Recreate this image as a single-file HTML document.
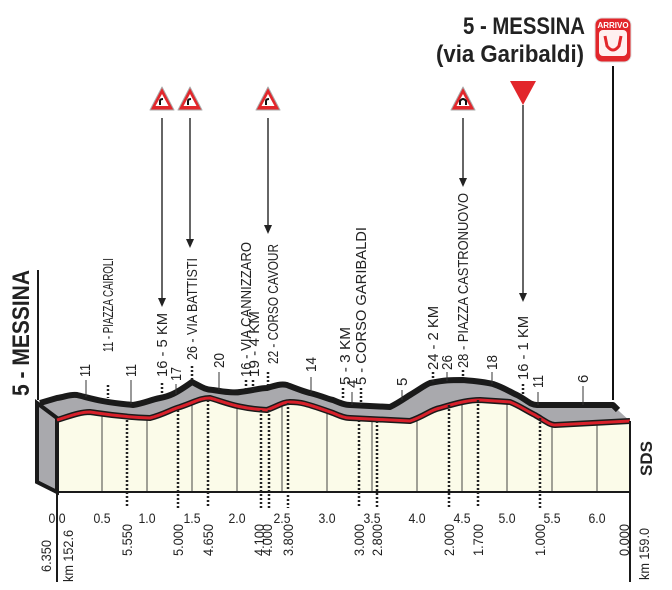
<!DOCTYPE html>
<html><head><meta charset="utf-8"><style>
html,body{margin:0;padding:0;background:#fff;}
svg{display:block;font-family:"Liberation Sans",sans-serif;}
.t{font-size:15px;fill:#222;}
.b{font-size:14px;fill:#222;}
</style></head><body>
<svg width="672" height="590" viewBox="0 0 672 590">
<path d="M57,420 C70,416 80,412 90,412 C105,414 120,417 150,418 C165,414 172,409 180,407 C195,402 200,398 210,398 C225,402 235,408 267,410 C278,406 283,402 290,402 C300,402 305,403 333,413 C340,416 345,418 350,418 L410,421 C425,416 430,410 440,408 C460,402 470,400 480,400 L510,402 C520,406 525,410 535,415 C545,421 550,425 555,425 L630,421 L630,492 L57,492 Z" fill="#fbfbe9"/>
<path d="M40,403 L57,398 C65,397 70,394 77,395 C90,398 100,402 133,405 C145,403 150,400 160,398 C170,396 175,394 192,382 C200,386 205,390 213,390 C225,392 235,393 240,392 C255,390 260,388 267,388 C280,384 283,384 287,385 C300,390 305,392 310,393 C322,396 328,399 333,400 C340,403 345,405 350,405 L390,407 C400,402 405,398 410,395 C420,389 425,385 430,383 C445,380 450,380 463,380 C475,381 485,382 493,384 C505,388 510,392 517,395 C527,400 530,405 537,405 L613,405 L620,412 L630,421 L555,425 C550,425 545,421 535,415 C525,410 520,406 510,402 L480,400 C470,400 460,402 440,408 C430,410 425,416 410,421 L350,418 C345,418 340,416 333,413 C305,403 300,402 290,402 C283,402 278,406 267,410 C235,408 225,402 210,398 C200,398 195,402 180,407 C172,409 165,414 150,418 C120,417 105,414 90,412 C80,412 70,416 57,420 Z" fill="#a9a9ad"/>
<path d="M37,403 L57,418 L57,492 L37,482 Z" fill="#a9a9ad" stroke="#1a1a1a" stroke-width="4"/>
<g stroke="#444" stroke-width="1">
<line x1="102" y1="414" x2="102" y2="492"/><line x1="147" y1="419" x2="147" y2="492"/><line x1="192" y1="403" x2="192" y2="492"/><line x1="237" y1="408" x2="237" y2="492"/><line x1="282" y1="405" x2="282" y2="492"/><line x1="327" y1="412" x2="327" y2="492"/><line x1="372" y1="421" x2="372" y2="492"/><line x1="417" y1="419" x2="417" y2="492"/><line x1="462" y1="403" x2="462" y2="492"/><line x1="507" y1="402" x2="507" y2="492"/><line x1="552" y1="424" x2="552" y2="492"/><line x1="597" y1="422" x2="597" y2="492"/>
</g>
<path d="M40,403 L57,398 C65,397 70,394 77,395 C90,398 100,402 133,405 C145,403 150,400 160,398 C170,396 175,394 192,382 C200,386 205,390 213,390 C225,392 235,393 240,392 C255,390 260,388 267,388 C280,384 283,384 287,385 C300,390 305,392 310,393 C322,396 328,399 333,400 C340,403 345,405 350,405 L390,407 C400,402 405,398 410,395 C420,389 425,385 430,383 C445,380 450,380 463,380 C475,381 485,382 493,384 C505,388 510,392 517,395 C527,400 530,405 537,405 L613,405 L618,410" fill="none" stroke="#1a1a1a" stroke-width="6" stroke-linejoin="round"/>
<g fill="none" stroke-linejoin="round">
<path id="rl" d="M57,420 C70,416 80,412 90,412 C105,414 120,417 150,418 C165,414 172,409 180,407 C195,402 200,398 210,398 C225,402 235,408 267,410 C278,406 283,402 290,402 C300,402 305,403 333,413 C340,416 345,418 350,418 L410,421 C425,416 430,410 440,408 C460,402 470,400 480,400 L510,402 C520,406 525,410 535,415 C545,421 550,425 555,425 L630,421" stroke="#1a1a1a" stroke-width="6"/>
<path d="M57,420 C70,416 80,412 90,412 C105,414 120,417 150,418 C165,414 172,409 180,407 C195,402 200,398 210,398 C225,402 235,408 267,410 C278,406 283,402 290,402 C300,402 305,403 333,413 C340,416 345,418 350,418 L410,421 C425,416 430,410 440,408 C460,402 470,400 480,400 L510,402 C520,406 525,410 535,415 C545,421 550,425 555,425 L630,421" stroke="#d8202a" stroke-width="3"/>
</g>
<g stroke="#1a1a1a" stroke-width="2">
<line x1="57" y1="492" x2="630" y2="492"/><line x1="57" y1="492" x2="57" y2="582"/><line x1="630" y1="421" x2="630" y2="582"/>
<line x1="38" y1="270" x2="38" y2="400"/>
</g>
<g stroke="#222" stroke-width="2.5" stroke-dasharray="2,2">
<line x1="127" y1="420" x2="127" y2="508"/><line x1="178" y1="410" x2="178" y2="508"/><line x1="208" y1="400" x2="208" y2="508"/><line x1="261" y1="410" x2="261" y2="508"/><line x1="269" y1="410" x2="269" y2="508"/><line x1="288" y1="403" x2="288" y2="508"/><line x1="359" y1="420" x2="359" y2="508"/><line x1="377" y1="421" x2="377" y2="508"/><line x1="449" y1="405" x2="449" y2="508"/><line x1="478" y1="400" x2="478" y2="508"/><line x1="540" y1="418" x2="540" y2="508"/>
</g>
<g stroke="#222" stroke-width="2.5" stroke-dasharray="2,2">
<line x1="108" y1="385" x2="108" y2="398"/><line x1="162" y1="383" x2="162" y2="395"/><line x1="192" y1="366" x2="192" y2="380"/><line x1="246" y1="380" x2="246" y2="390"/><line x1="253" y1="380" x2="253" y2="390"/><line x1="268" y1="372" x2="268" y2="386"/><line x1="343" y1="388" x2="343" y2="400"/><line x1="361" y1="388" x2="361" y2="405"/><line x1="433" y1="372" x2="433" y2="383"/><line x1="463" y1="370" x2="463" y2="378"/><line x1="523" y1="384" x2="523" y2="396"/>
</g>
<g stroke="#333" stroke-width="1">
<line x1="86" y1="380" x2="86" y2="397"/><line x1="131" y1="380" x2="131" y2="404"/><line x1="176" y1="384" x2="176" y2="394"/><line x1="219" y1="372" x2="219" y2="390"/><line x1="311" y1="377" x2="311" y2="393"/><line x1="352" y1="392" x2="352" y2="405"/><line x1="402" y1="390" x2="402" y2="400"/><line x1="447" y1="372" x2="447" y2="381"/><line x1="492" y1="372" x2="492" y2="384"/><line x1="538" y1="392" x2="538" y2="405"/><line x1="583" y1="386" x2="583" y2="405"/>
<line x1="162" y1="118" x2="162" y2="305" stroke-width="1.5"/><line x1="190" y1="118" x2="190" y2="246" stroke-width="1.5"/><line x1="268" y1="118" x2="268" y2="232" stroke-width="1.5"/><line x1="463" y1="118" x2="463" y2="185" stroke-width="1.5"/><line x1="523" y1="105" x2="523" y2="300" stroke-width="1.5"/>
<line x1="613" y1="66" x2="613" y2="400" stroke="#111" stroke-width="2"/>
</g>
<g fill="#222">
<path d="M158,298 L166,298 L162,307Z"/><path d="M186,239 L194,239 L190,248Z"/><path d="M264,225 L272,225 L268,234Z"/><path d="M459,178 L467,178 L463,187Z"/><path d="M519,293 L527,293 L523,302Z"/>
</g>
<g>
<g transform="translate(162,100)"><path d="M0,-13 L12,10 L-12,10Z" fill="#e2262b" stroke="#aaa" stroke-width="1" stroke-linejoin="round"/><path d="M0,-6 L6.5,6 L-6.5,6Z" fill="#fff"/><path d="M-2,5 L-2,1 Q-2,-1 1,-1" fill="none" stroke="#111" stroke-width="2"/></g>
<g transform="translate(190,100)"><path d="M0,-13 L12,10 L-12,10Z" fill="#e2262b" stroke="#aaa" stroke-width="1" stroke-linejoin="round"/><path d="M0,-6 L6.5,6 L-6.5,6Z" fill="#fff"/><path d="M-2,5 L-2,1 Q-2,-1 1,-1" fill="none" stroke="#111" stroke-width="2"/></g>
<g transform="translate(268,100)"><path d="M0,-13 L12,10 L-12,10Z" fill="#e2262b" stroke="#aaa" stroke-width="1" stroke-linejoin="round"/><path d="M0,-6 L6.5,6 L-6.5,6Z" fill="#fff"/><path d="M-2,5 L-2,1 Q-2,-1 1,-1" fill="none" stroke="#111" stroke-width="2"/></g>
<g transform="translate(463,100)"><path d="M0,-13 L12,10 L-12,10Z" fill="#e2262b" stroke="#aaa" stroke-width="1" stroke-linejoin="round"/><path d="M0,-6 L6.5,6 L-6.5,6Z" fill="#fff"/><path d="M-3,5 L-3,1 Q0,-3 3,1 L3,5" fill="none" stroke="#111" stroke-width="2"/></g>
<path d="M510,81 L536,81 L523,105Z" fill="#e2262b"/>
<rect x="595" y="18" width="36" height="44" rx="7" fill="#e2262b" stroke="#ddd" stroke-width="1"/>
<rect x="599" y="30" width="28" height="26" rx="4" fill="#fff0f0"/>
<text x="613" y="28" font-size="8" font-weight="bold" fill="#fff" text-anchor="middle">ARRIVO</text>
<path d="M605,36 L607,46 Q613,54 619,46 L621,36" fill="none" stroke="#e2262b" stroke-width="3"/>
</g>
<text x="524" y="34" font-size="24" font-weight="bold" fill="#222" text-anchor="middle" textLength="122" lengthAdjust="spacingAndGlyphs">5 - MESSINA</text>
<text x="510" y="62" font-size="24" font-weight="bold" fill="#222" text-anchor="middle" textLength="148" lengthAdjust="spacingAndGlyphs">(via Garibaldi)</text>
<text transform="translate(29,396) rotate(-90)" font-size="24" font-weight="bold" fill="#222" textLength="126" lengthAdjust="spacingAndGlyphs">5 - MESSINA</text>
<g class="t">
<text class="t" transform="translate(90,377) rotate(-90)" textLength="13" lengthAdjust="spacingAndGlyphs">11</text>
<text class="t" transform="translate(113,352) rotate(-90)" textLength="94" lengthAdjust="spacingAndGlyphs">11 - PIAZZA CAIROLI</text>
<text class="t" transform="translate(136,377) rotate(-90)" textLength="13" lengthAdjust="spacingAndGlyphs">11</text>
<text class="t" transform="translate(167,377) rotate(-90)" textLength="64" lengthAdjust="spacingAndGlyphs">16 - 5 KM</text>
<text class="t" transform="translate(181,381) rotate(-90)" textLength="14" lengthAdjust="spacingAndGlyphs">17</text>
<text class="t" transform="translate(197,360) rotate(-90)" textLength="102" lengthAdjust="spacingAndGlyphs">26 - VIA BATTISTI</text>
<text class="t" transform="translate(224,368) rotate(-90)" textLength="15" lengthAdjust="spacingAndGlyphs">20</text>
<text class="t" transform="translate(251,377) rotate(-90)" textLength="135" lengthAdjust="spacingAndGlyphs">16 - VIA CANNIZZARO</text>
<text class="t" transform="translate(259,377) rotate(-90)" textLength="66" lengthAdjust="spacingAndGlyphs">19 - 4 KM</text>
<text class="t" transform="translate(278,364) rotate(-90)" textLength="120" lengthAdjust="spacingAndGlyphs">22 - CORSO CAVOUR</text>
<text class="t" transform="translate(316,372) rotate(-90)" textLength="15" lengthAdjust="spacingAndGlyphs">14</text>
<text class="t" transform="translate(350,385) rotate(-90)" textLength="58" lengthAdjust="spacingAndGlyphs">5 - 3 KM</text>
<text class="t" transform="translate(357,388) rotate(-90)">4</text>
<text class="t" transform="translate(366,385) rotate(-90)" textLength="158" lengthAdjust="spacingAndGlyphs">5 - CORSO GARIBALDI</text>
<text class="t" transform="translate(407,386) rotate(-90)">5</text>
<text class="t" transform="translate(438,370) rotate(-90)" textLength="64" lengthAdjust="spacingAndGlyphs">24 - 2 KM</text>
<text class="t" transform="translate(452,370) rotate(-90)" textLength="15" lengthAdjust="spacingAndGlyphs">26</text>
<text class="t" transform="translate(468,368) rotate(-90)" textLength="175" lengthAdjust="spacingAndGlyphs">28 - PIAZZA CASTRONUOVO</text>
<text class="t" transform="translate(497,370) rotate(-90)" textLength="15" lengthAdjust="spacingAndGlyphs">18</text>
<text class="t" transform="translate(528,380) rotate(-90)" textLength="64" lengthAdjust="spacingAndGlyphs">16 - 1 KM</text>
<text class="t" transform="translate(543,388) rotate(-90)" textLength="13" lengthAdjust="spacingAndGlyphs">11</text>
<text class="t" transform="translate(588,383) rotate(-90)">6</text>
</g>
<g class="b" text-anchor="middle">
<text x="57" y="523" textLength="17" lengthAdjust="spacingAndGlyphs">0.0</text><text x="102" y="523" textLength="17" lengthAdjust="spacingAndGlyphs">0.5</text><text x="147" y="523" textLength="17" lengthAdjust="spacingAndGlyphs">1.0</text><text x="192" y="523" textLength="17" lengthAdjust="spacingAndGlyphs">1.5</text><text x="237" y="523" textLength="17" lengthAdjust="spacingAndGlyphs">2.0</text><text x="282" y="523" textLength="17" lengthAdjust="spacingAndGlyphs">2.5</text><text x="327" y="523" textLength="17" lengthAdjust="spacingAndGlyphs">3.0</text><text x="372" y="523" textLength="17" lengthAdjust="spacingAndGlyphs">3.5</text><text x="417" y="523" textLength="17" lengthAdjust="spacingAndGlyphs">4.0</text><text x="462" y="523" textLength="17" lengthAdjust="spacingAndGlyphs">4.5</text><text x="507" y="523" textLength="17" lengthAdjust="spacingAndGlyphs">5.0</text><text x="552" y="523" textLength="17" lengthAdjust="spacingAndGlyphs">5.5</text><text x="597" y="523" textLength="17" lengthAdjust="spacingAndGlyphs">6.0</text>
</g>
<g class="b">
<text transform="translate(51,572) rotate(-90)" textLength="32" lengthAdjust="spacingAndGlyphs">6.350</text>
<text transform="translate(73,582) rotate(-90)" textLength="52" lengthAdjust="spacingAndGlyphs">km 152.6</text>
<text transform="translate(132,556) rotate(-90)" textLength="32" lengthAdjust="spacingAndGlyphs">5.550</text>
<text transform="translate(183,556) rotate(-90)" textLength="32" lengthAdjust="spacingAndGlyphs">5.000</text>
<text transform="translate(213,556) rotate(-90)" textLength="32" lengthAdjust="spacingAndGlyphs">4.650</text>
<text transform="translate(264,556) rotate(-90)" textLength="32" lengthAdjust="spacingAndGlyphs">4.100</text>
<text transform="translate(272,556) rotate(-90)" textLength="32" lengthAdjust="spacingAndGlyphs">4.000</text>
<text transform="translate(293,556) rotate(-90)" textLength="32" lengthAdjust="spacingAndGlyphs">3.800</text>
<text transform="translate(364,556) rotate(-90)" textLength="32" lengthAdjust="spacingAndGlyphs">3.000</text>
<text transform="translate(382,556) rotate(-90)" textLength="32" lengthAdjust="spacingAndGlyphs">2.800</text>
<text transform="translate(454,556) rotate(-90)" textLength="32" lengthAdjust="spacingAndGlyphs">2.000</text>
<text transform="translate(483,556) rotate(-90)" textLength="32" lengthAdjust="spacingAndGlyphs">1.700</text>
<text transform="translate(545,556) rotate(-90)" textLength="32" lengthAdjust="spacingAndGlyphs">1.000</text>
<text transform="translate(629,556) rotate(-90)" textLength="32" lengthAdjust="spacingAndGlyphs">0.000</text>
<text transform="translate(649,580) rotate(-90)" textLength="52" lengthAdjust="spacingAndGlyphs">km 159.0</text>
<text transform="translate(652,476) rotate(-90)" font-size="17" font-weight="bold">SDS</text>
</g>
</svg>
</body></html>
